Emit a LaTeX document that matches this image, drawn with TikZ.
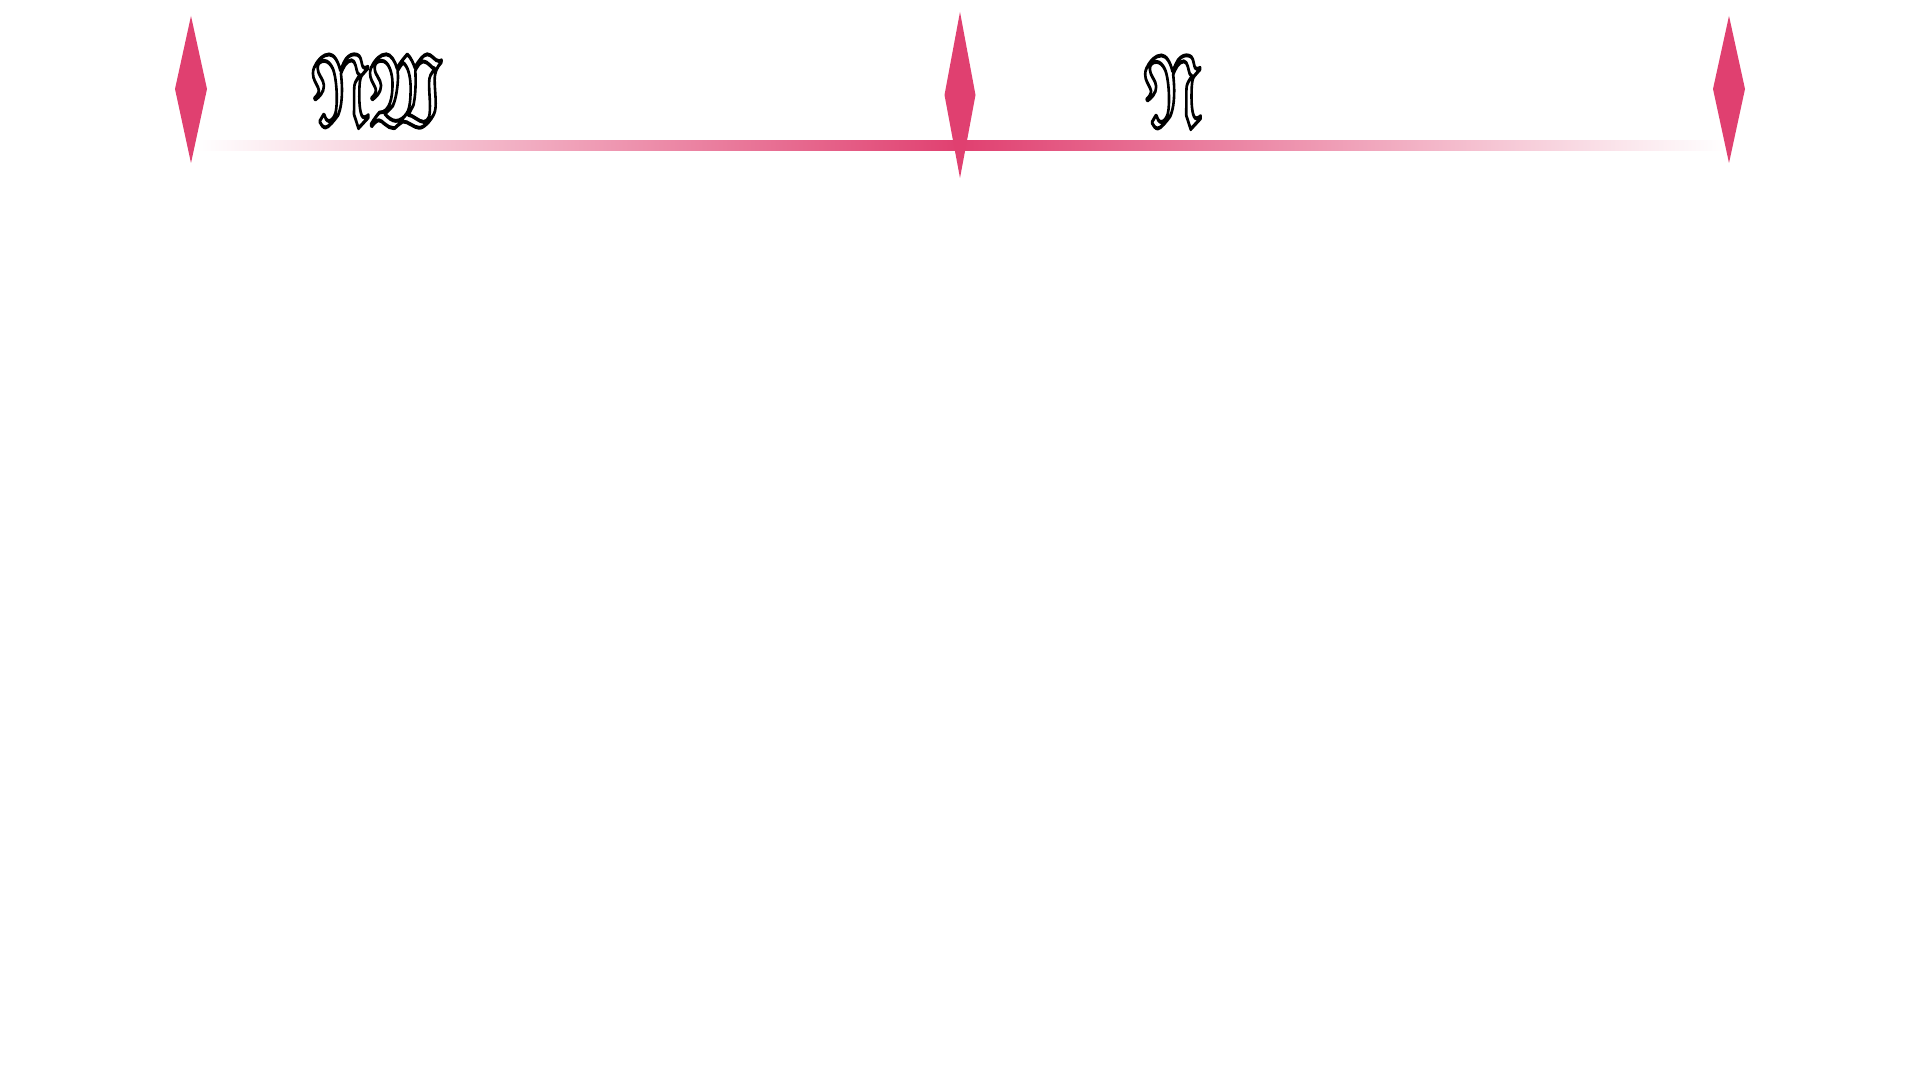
\documentclass[tikz,border=0pt]{standalone}
\usepackage{graphicx}
\usepackage{amsfonts}
\definecolor{rose}{RGB}{224,64,112}
\newcommand{\frk}[1]{\scalebox{0.67}[1]{$\mathfrak{#1}$}}
\newcommand{\outl}[1]{%
  \special{pdf:literal direct q 2 Tr 1.1 w 1 j 0 0 0 RG 1 1 1 rg}%
  \frk{#1}%
  \special{pdf:literal direct Q}}
\tikzset{
  gem/.style={fill=rose, draw=none},
  label/.style={inner sep=0pt, font=\fontsize{29.4}{30}\selectfont}
}
\begin{document}
\begin{tikzpicture}[x=0.01cm,y=-0.01cm]
\useasboundingbox (0,0) rectangle (1920,1080);
\fill[white] (0,0) rectangle (1920,1080);
% gradient bar
\shade[left color=white, right color=rose] (197,141) rectangle (960,151);
\shade[left color=rose, right color=white] (960,141) rectangle (1725,151);
% diamonds
\fill[gem] (191,16) -- (207,89) -- (191,163) -- (175,89) -- cycle;
\fill[gem] (960,12) -- (975.5,95) -- (960,178) -- (944.5,95) -- cycle;
\fill[gem] (1729,16) -- (1745,89) -- (1729,163) -- (1713,89) -- cycle;
% labels
\node[label] (nw) at (376,89.5) {\outl{NW}};
\node[label] (n) at (1172,90.5) {\outl{N}};
\end{tikzpicture}
\end{document}
